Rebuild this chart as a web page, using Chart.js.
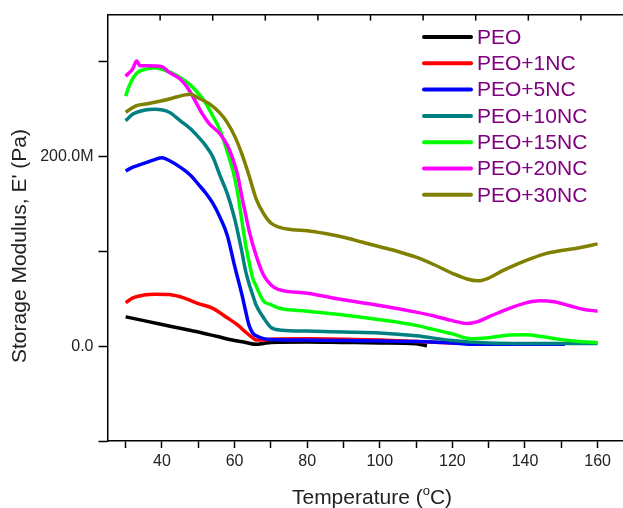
<!DOCTYPE html>
<html>
<head>
<meta charset="utf-8">
<script src="https://cdn.jsdelivr.net/npm/chart.js@4.4.1/dist/chart.umd.min.js"></script>
<style>
  body { margin: 0; background: #fff; overflow: hidden; }
  canvas { display: block; }
</style>
</head>
<body>
<canvas id="myChart" width="623" height="508"></canvas>
<script>
// temperature (C) and storage modulus (MPa)
const peoT = [30, 35, 40, 45, 50, 55, 60, 63, 66, 68, 70, 80, 90, 100, 110, 113]
const peoE = [31, 27, 23, 19, 15, 10.5, 6, 4, 2, 3, 4, 4.5, 4, 3.5, 2.5, 0.5]

const nc1T = [30, 32, 35, 38, 42, 46, 50, 54, 58, 61, 63, 65, 66, 68, 70, 80, 90, 100, 110, 120, 124]
const nc1E = [46, 51, 54, 55, 54.5, 51, 45, 40, 30, 22, 15, 9, 6.5, 6.5, 7.5, 8, 7.5, 6.5, 5, 3.5, 3]

const nc5T = [30, 32, 35, 38, 40, 42, 45, 48, 50, 52, 54, 56, 58, 60, 61, 62, 63, 64, 65, 66, 68, 70, 80, 90, 100, 110, 120, 125, 135, 145, 151]
const nc5E = [185, 189, 193, 197, 199, 196, 189, 180, 171, 162, 151, 136, 117, 85, 70, 55, 38, 22, 14, 11, 8, 7, 6.5, 6, 5.5, 5, 3.5, 2, 2, 2, 2]

const nc10T = [30, 32, 35, 38, 42, 45, 48, 50, 52, 54, 56, 58, 60, 62, 63, 64, 65, 66, 68, 70, 73, 80, 90, 100, 110, 120, 130, 140, 150, 160]
const nc10E = [238, 245, 249, 250, 247, 238, 229, 221, 212, 200, 180, 161, 135, 100, 80, 66, 54, 43, 30, 20, 17, 16, 15, 14, 11, 6, 3.5, 3, 3, 3]

const nc15T = [30, 31, 33, 35, 38, 41, 44, 46, 48, 50, 52, 54, 56, 58, 60, 61, 62, 63, 64, 65, 66, 68, 70, 72, 80, 90, 100, 110, 115, 120, 125, 130, 135, 140, 145, 150, 155, 160]
const nc15E = [264, 275, 288, 292, 294, 291, 286, 281, 275, 267, 257, 243, 228, 205, 178, 158, 133, 108, 89, 72, 63, 47.5, 44, 40.5, 37, 33, 28, 22, 17.5, 13, 8, 9, 11.5, 12, 10, 7, 5, 4]

const nc20T = [30, 32, 33, 34, 36, 40, 42, 45, 47, 49, 51, 53, 56, 58, 60, 61, 62, 63, 64, 66, 68, 70, 72, 80, 90, 100, 110, 115, 120, 124, 127, 130, 135, 140, 144, 148, 152, 156, 160]
const nc20E = [285, 293, 301, 296, 296, 295, 289, 282, 273, 260, 246, 235, 224, 212, 192, 178, 158, 140, 122, 95, 75, 65, 60, 56, 49, 43, 36, 32, 27, 24, 26, 31, 39, 45.5, 48, 47, 43, 39, 37]

const nc30T = [30, 33, 36, 40, 43, 46, 48, 50, 53, 56, 58, 60, 62, 64, 66, 68, 70, 72, 76, 80, 85, 90, 95, 100, 105, 110, 115, 120, 124, 127, 130, 134, 138, 142, 146, 150, 155, 160]
const nc30E = [247, 254, 256, 259, 262, 265, 266, 262, 256, 246, 236, 222, 203, 180, 155, 140, 130, 126, 123, 122, 119, 115, 110, 105, 100, 94, 86, 77, 71, 69, 72, 80, 87, 93, 98, 101, 104, 108]

const labels = ['PEO', 'PEO+1NC', 'PEO+5NC', 'PEO+10NC', 'PEO+15NC', 'PEO+20NC', 'PEO+30NC']
const colors = ['#000000', '#ff0000', '#0000ff', '#008080', '#00ff00', '#ff00ff', '#808000']
const seriesT = [peoT, nc1T, nc5T, nc10T, nc15T, nc20T, nc30T]
const seriesE = [peoE, nc1E, nc5E, nc10E, nc15E, nc20E, nc30E]

const xTicks = [30, 40, 50, 60, 70, 80, 90, 100, 110, 120, 130, 140, 150, 160]
const yTicks = [-100, 0, 100, 200, 300]
const topTicks = [1, 2, 3, 4, 5, 6, 7, 8, 9]

const font = '"Liberation Sans", Arial, sans-serif'

let datasets = labels.map((name, i) => ({
    label: name,
    data: seriesT[i].map((t, k) => ({ x: t, y: seriesE[i][k] })),
    borderColor: colors[i],
    borderWidth: 3.5,
    pointRadius: 0,
    fill: false,
    cubicInterpolationMode: 'monotone',
    order: labels.length - i
}))

const extras = {
    id: 'extras',
    afterDraw(chart) {
        const ctx = chart.ctx
        const area = chart.chartArea
        const top = chart.scales.x2
        ctx.save()

        // inward ticks on the top axis
        ctx.strokeStyle = '#000'
        ctx.lineWidth = 1.5
        topTicks.forEach(v => {
            let px = top.getPixelForValue(v)
            ctx.beginPath()
            ctx.moveTo(px, area.top)
            ctx.lineTo(px, area.top + 6)
            ctx.stroke()
        })

        // legend inside the plot
        ctx.font = '21px ' + font
        ctx.textBaseline = 'middle'
        ctx.textAlign = 'left'
        ctx.lineCap = 'round'
        chart.data.datasets.forEach((ds, i) => {
            let y = 37 + i * 26.3
            ctx.strokeStyle = ds.borderColor
            ctx.lineWidth = 4
            ctx.beginPath()
            ctx.moveTo(424, y)
            ctx.lineTo(471, y)
            ctx.stroke()
            ctx.fillStyle = '#800080'
            ctx.fillText(ds.label, 477, y + 1)
        })

        // axis titles
        ctx.fillStyle = '#222'
        ctx.textBaseline = 'alphabetic'
        ctx.save()
        ctx.translate(26, 246)
        ctx.rotate(-Math.PI / 2)
        ctx.textAlign = 'center'
        ctx.font = '21px ' + font
        ctx.fillText("Storage Modulus, E' (Pa)", 0, 0)
        ctx.restore()

        let a = 'Temperature ('
        let b = 'o'
        let c = 'C)'
        ctx.font = '21px ' + font
        let wa = ctx.measureText(a).width
        let wc = ctx.measureText(c).width
        ctx.font = '13px ' + font
        let wb = ctx.measureText(b).width
        let x0 = 372 - (wa + wb + wc) / 2
        let base = 504
        ctx.textAlign = 'left'
        ctx.font = '21px ' + font
        ctx.fillText(a, x0, base)
        ctx.font = '13px ' + font
        ctx.fillText(b, x0 + wa, base - 9)
        ctx.font = '21px ' + font
        ctx.fillText(c, x0 + wa + wb, base)
        ctx.restore()
    }
}

const ctx = document.getElementById('myChart')

new Chart(ctx, {
    type: 'line',
    data: { datasets: datasets },
    plugins: [extras],
    options: {
        responsive: false,
        animation: false,
        layout: { padding: 0 },
        plugins: {
            legend: { display: false },
            tooltip: { enabled: false }
        },
        scales: {
            x: {
                type: 'linear',
                position: 'bottom',
                min: 25,
                max: 167,
                afterBuildTicks: scale => { scale.ticks = xTicks.map(v => ({ value: v })) },
                afterFit: scale => { scale.height = 67 },
                ticks: {
                    autoSkip: false,
                    maxRotation: 0,
                    padding: 4,
                    color: '#222',
                    font: { family: font, size: 16 },
                    callback: v => (v % 20 === 0 ? String(v) : '')
                },
                grid: { drawOnChartArea: false, tickLength: 7, tickColor: '#000', tickWidth: 1.5 },
                border: { display: true, color: '#000', width: 1.5 }
            },
            x2: {
                type: 'linear',
                position: 'top',
                min: 0,
                max: 9.8,
                afterFit: scale => { scale.height = 14 },
                ticks: { display: false },
                grid: { drawOnChartArea: false, drawTicks: false },
                border: { display: true, color: '#000', width: 1.5 }
            },
            y: {
                type: 'linear',
                min: -100,
                max: 350,
                afterBuildTicks: scale => { scale.ticks = yTicks.map(v => ({ value: v })) },
                afterFit: scale => { scale.width = 107.5 },
                ticks: {
                    autoSkip: false,
                    padding: 5,
                    color: '#222',
                    font: { family: font, size: 16 },
                    callback: v => (v === 0 ? '0.0' : v === 200 ? '200.0M' : '')
                },
                grid: { drawOnChartArea: false, tickLength: 9, tickColor: '#000', tickWidth: 1.5 },
                border: { display: true, color: '#000', width: 1.5 }
            }
        }
    }
})
</script>
</body>
</html>
